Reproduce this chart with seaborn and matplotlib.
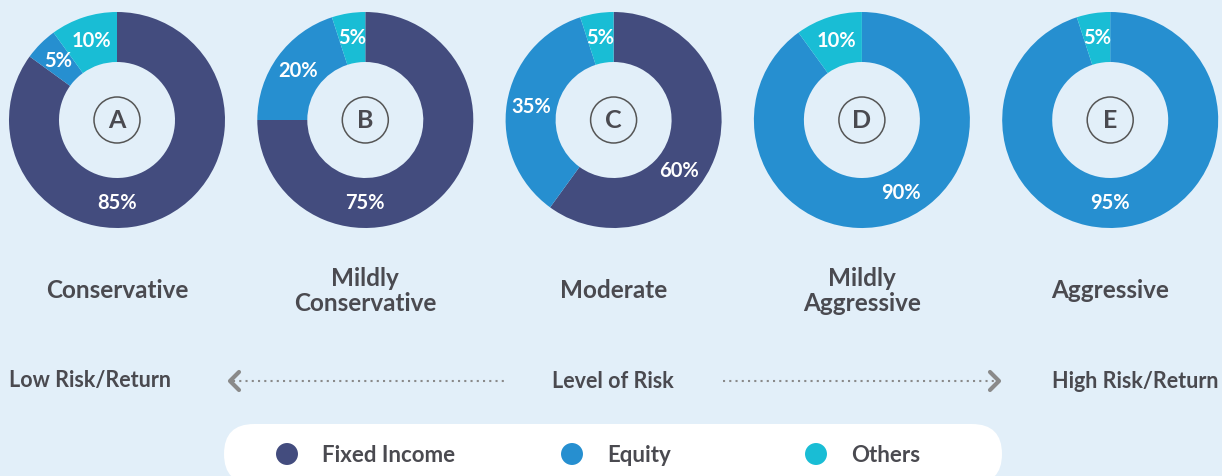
import numpy as np
import seaborn as sns
import matplotlib.pyplot as plt
from matplotlib.patches import FancyBboxPatch, Circle

# datos
perfiles = ['A', 'B', 'C', 'D', 'E']
nombres = ['Conservative', 'Mildly\nConservative', 'Moderate', 'Mildly\nAggressive', 'Aggressive']
activos = ['Fixed Income', 'Equity', 'Others']
fixed_income = [85, 75, 60, 0, 0]
equity = [5, 20, 35, 90, 95]
others = [10, 5, 5, 10, 5]

colores = ['#434c7e', '#268fd0', '#19bdd5']
fondo = '#e2eff9'
gris = '#4a4a50'

sns.set_style('white', {'axes.facecolor': fondo, 'figure.facecolor': fondo})
plt.rcParams['font.family'] = ['Lato', 'DejaVu Sans']

W, H = 1222, 476
fig = plt.figure(figsize=(W / 100, H / 100), dpi=100)
ax = fig.add_axes([0, 0, 1, 1])

# posicion de cada dona (en pixeles, y hacia arriba)
cx0, paso, cy = 117, 248.3, H - 120
r_ext, r_int = 108, 58
r_lab = 83
angulo_principal = [-90, -90, -38, -62, -90]

for i, p in enumerate(perfiles):
    cx = cx0 + i * paso
    vals = [fixed_income[i], equity[i], others[i]]
    ax.pie(vals, colors=colores, startangle=90, counterclock=False,
           radius=r_ext, center=(cx, cy), frame=True,
           wedgeprops=dict(width=r_ext - r_int, linewidth=0))
    # etiquetas de porcentaje
    acum = 0
    total = sum(vals)
    big = int(np.argmax(vals))
    for j, v in enumerate(vals):
        if v == 0:
            continue
        ang = 90 - 360 * (acum + v / 2) / total
        acum += v
        if j == big:
            ang = angulo_principal[i]
        a = np.deg2rad(ang)
        ax.text(cx + r_lab * np.cos(a), cy + r_lab * np.sin(a), f'{v}%',
                ha='center', va='center', color='white', fontsize=14.5, fontweight='bold')
    # letra en el centro
    ax.add_patch(Circle((cx, cy), 23, fill=False, edgecolor='#555555', linewidth=1.1))
    ax.text(cx, cy - 1, p, ha='center', va='center', color=gris, fontsize=18, fontweight='bold')
    # nombre del perfil
    ax.text(cx, H - 291, nombres[i], ha='center', va='center', color=gris,
            fontsize=17.5, fontweight='bold', linespacing=1.15)

# escala de riesgo
yr = H - 381
ax.text(9, yr, 'Low Risk/Return', ha='left', va='center', color=gris, fontsize=15.5, fontweight='bold')
ax.text(613, yr, 'Level of Risk', ha='center', va='center', color=gris, fontsize=15.5, fontweight='bold')
ax.text(1218, yr, 'High Risk/Return', ha='right', va='center', color=gris, fontsize=15.5, fontweight='bold')
ax.plot([233, 507], [yr, yr], linestyle=(0, (1, 2)), color='#8a8a8a', linewidth=1.5)
ax.plot([723, 997], [yr, yr], linestyle=(0, (1, 2)), color='#8a8a8a', linewidth=1.5)
ax.plot([239, 230, 239], [yr + 9, yr, yr - 9], color='#8a8a8a', linewidth=3, solid_capstyle='round')
ax.plot([990, 999, 990], [yr + 9, yr, yr - 9], color='#8a8a8a', linewidth=3, solid_capstyle='round')

# leyenda
caja = FancyBboxPatch((224, H - 484), 778, 60, boxstyle='round,pad=0,rounding_size=30',
                      facecolor='white', edgecolor='none')
ax.add_patch(caja)
ley_x = [287, 572, 816]
ley_y = [H - 454] * 3
sns.scatterplot(x=ley_x, y=ley_y, hue=activos, palette=colores, s=250,
                linewidth=0, legend=False, ax=ax, zorder=3)
for x, nombre in zip(ley_x, activos):
    ax.text(x + 35, H - 456, nombre, ha='left', va='center', color=gris,
            fontsize=16, fontweight='bold')

ax.set_xlim(0, W)
ax.set_ylim(0, H)
ax.set_aspect('equal')
ax.axis('off')

plt.savefig('out.png', dpi=100, facecolor=fondo)
